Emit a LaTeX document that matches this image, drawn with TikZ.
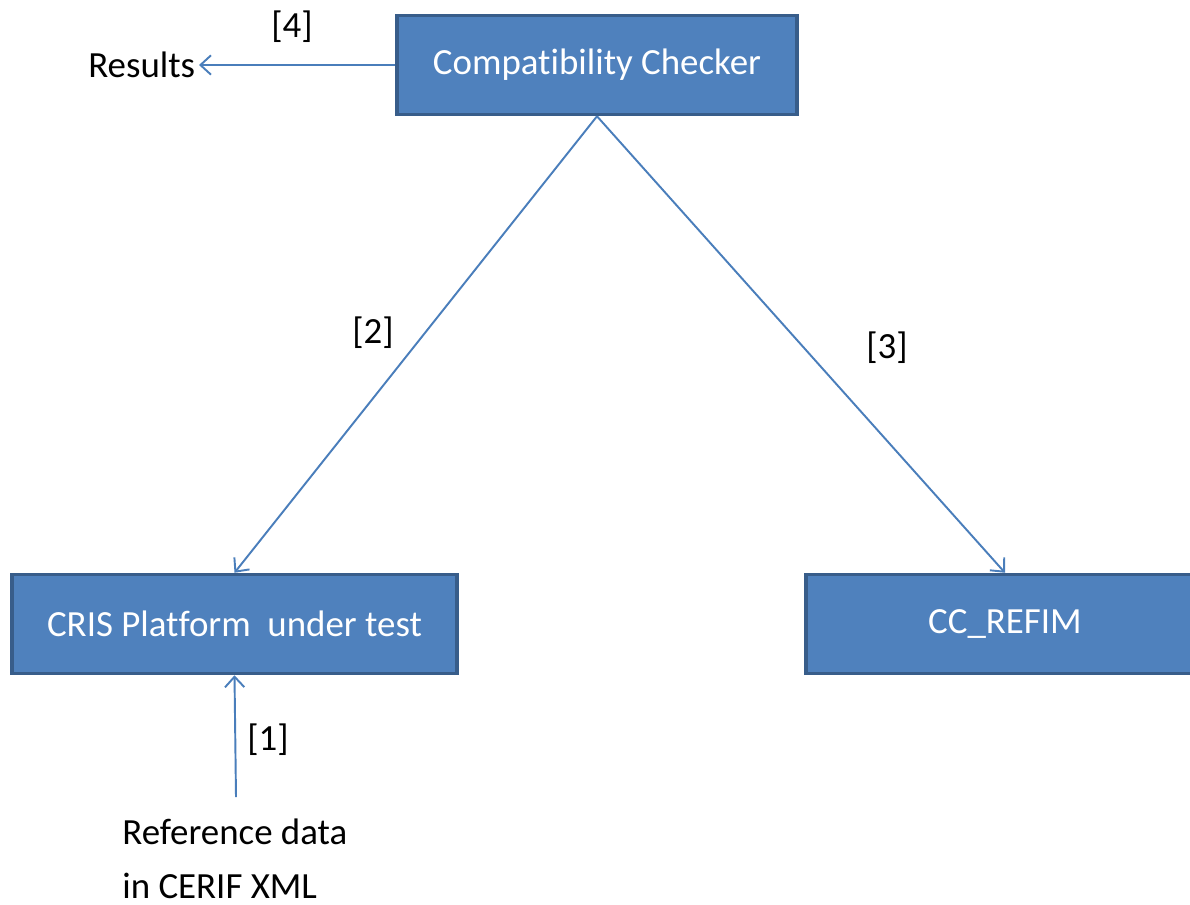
\documentclass[tikz,border=0pt]{standalone}
\usepackage{fontspec}
\setmainfont[Ligatures=NoCommon]{Carlito}
\usetikzlibrary{arrows.meta}

\definecolor{boxfill}{HTML}{4F81BD}
\definecolor{boxline}{HTML}{385D8A}
\definecolor{linkblue}{HTML}{4A7EBB}

\begin{document}
\begin{tikzpicture}[x=0.02cm, y=-0.02cm,
    font=\fontsize{21pt}{30.5pt}\selectfont,
    block/.style={draw=boxline, fill=boxfill, line width=2pt, text=white,
        inner sep=0pt, minimum height=1.98cm},
    link/.style={draw=linkblue, line width=1.1pt,
        -{Straight Barb[length=6pt, width=11pt]}},
    tag/.style={inner sep=0pt}]
    \def\W{1190};
    \def\H{904};

    \useasboundingbox (0, 0) rectangle (\W, \H);

% the three blocks
    \node[block, minimum width=8cm]    (checker) at (597, 65)   {Compatibility Checker};
    \node[block, minimum width=8.9cm]  (cris)    at (234.5, 624) {CRIS Platform\ \ under test};
    \node[block, minimum width=7.96cm] (refim)   at (1005, 624)  {CC\_REFIM};

% free ends
    \node[anchor=east, inner sep=2pt] (results) at (199, 65) {Results};
    \node[anchor=north west, align=left, inner sep=0pt] (refdata) at (122, 819)
        {Reference data\\in CERIF XML};
    \coordinate (refin) at (236, 797);

% connectors
    \draw[link] (checker.west) -- (results.east);
    \draw[link] (checker.south) -- (cris.north);
    \draw[link] (checker.south) -- (refim.north);
    \draw[link] (refin) -- (cris.south);

    \node[tag] (l4) at (292, 27)  {[4]};
    \node[tag] (l2) at (373, 333) {[2]};
    \node[tag] (l3) at (887, 348) {[3]};
    \node[tag] (l1) at (268, 740) {[1]};

\end{tikzpicture}
\end{document}
